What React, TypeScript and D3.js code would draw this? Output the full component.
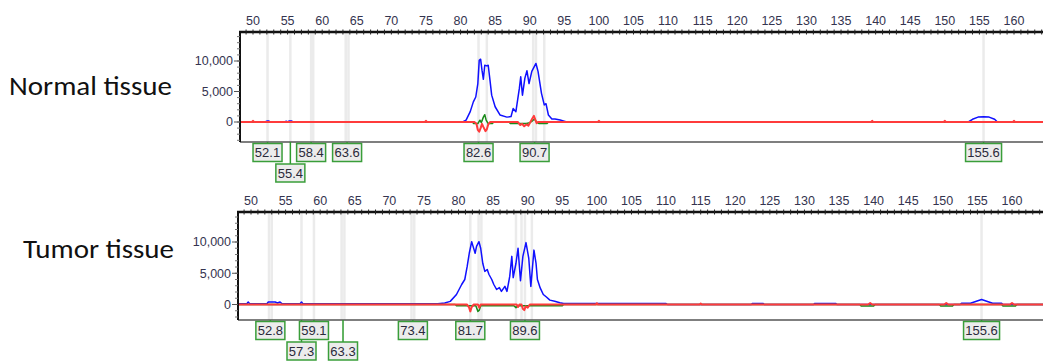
import React from "react";
import * as d3 from "d3";

// Fragment size axis (bp) and signal axis (RFU)
const X_TICKS = [50, 55, 60, 65, 70, 75, 80, 85, 90, 95, 100, 105, 110, 115, 120, 125, 130, 135, 140, 145, 150, 155, 160];
const Y_TICKS = [0, 5000, 10000];

// ---------- Normal tissue ----------
const normalBlue: [number, number][] = [
  [46, 0], [51.7, 0], [52.0, 150], [52.3, 150], [52.5, 0],
  [54.6, 0], [54.8, 120], [55.0, 0], [55.2, 150], [55.6, 150], [55.8, 0],
  [80.3, 0], [80.8, 300], [81.4, 1700], [81.85, 3300], [82.2, 4100], [82.5, 6300],
  [82.7, 10100], [82.9, 10300], [83.1, 8500], [83.3, 7000], [83.5, 9300], [83.8, 9200],
  [84.0, 9300], [84.25, 6900], [84.5, 4400], [85.0, 2500], [85.7, 1150], [86.7, 800],
  [87.3, 900], [87.6, 2200], [88.0, 1700], [88.5, 5500], [88.7, 7400], [88.95, 4400],
  [89.3, 7200], [89.6, 8400], [89.9, 6300], [90.3, 8300], [90.9, 9600], [91.2, 8300],
  [91.7, 4700], [92.1, 2800], [92.35, 3000], [92.7, 1150], [93.2, 500], [93.65, 500],
  [94.4, 330], [95.1, 100], [95.4, 0],
  [153.4, 0], [154.0, 450], [154.8, 800], [155.6, 880], [156.4, 800], [157.2, 450], [157.6, 0],
  [170, 0],
];
const normalRed: [number, number][] = [
  [46, 0], [49.85, 0], [50.0, 200], [50.15, 0],
  [74.85, 0], [75.0, 200], [75.15, 0],
  [82.0, 0], [82.3, -300], [82.5, -1300], [82.7, -1600], [82.9, -1000], [83.1, -300],
  [83.3, -800], [83.6, -1500], [83.8, -1200], [84.0, -400], [84.3, 0],
  [88.3, 0], [88.6, -500], [88.9, -300], [89.2, -700], [89.5, -400], [89.8, -600],
  [90.1, 0], [90.4, 600], [90.6, 1000], [90.8, 400], [91.0, -200], [91.2, 0],
  [99.85, 0], [100.0, 200], [100.15, 0],
  [139.35, 0], [139.5, 200], [139.65, 0],
  [149.85, 0], [150.0, 200], [150.15, 0],
  [159.85, 0], [160.0, 200], [160.15, 0],
  [170, 0],
];
const normalGreen: [number, number][] = [
  [46, 0], [81.7, 0], [81.9, -250], [82.5, -250], [82.8, 300], [83.0, -100], [83.3, 800],
  [83.5, 1200], [83.7, 300], [84.0, -250], [84.6, -250], [84.8, 0],
  [87.0, 0], [87.2, -250], [89.5, -250], [90.0, -100], [90.4, 200], [90.7, 500],
  [90.9, 100], [91.3, -250], [92.5, -250], [92.7, 0], [170, 0],
];
const normalMarkers = [52.1, 55.4, 58.4, 58.7, 63.4, 63.8, 82.6, 83.8, 90.5, 90.9, 92.1, 155.6];
const normalLabels: { value: number; row: number }[] = [
  { value: 52.1, row: 0 }, { value: 55.4, row: 1 }, { value: 58.4, row: 0 },
  { value: 63.6, row: 0 }, { value: 82.6, row: 0 }, { value: 90.7, row: 0 },
  { value: 155.6, row: 0 },
];

// ---------- Tumor tissue ----------
const tumorBlue: [number, number][] = [
  [46, 120], [49.4, 120], [49.6, 400], [49.8, 120],
  [52.3, 120], [52.5, 400], [53.5, 400], [53.8, 250], [54.2, 400], [54.5, 120],
  [57.1, 120], [57.3, 400], [57.5, 120],
  [77.0, 120], [78.0, 250], [78.8, 500], [79.7, 1600], [80.45, 3200], [80.9, 4000],
  [81.25, 6100], [81.55, 8200], [81.9, 10050], [82.1, 9300], [82.4, 8200], [82.6, 9300],
  [82.95, 10050], [83.2, 9000], [83.5, 6600], [83.8, 5300], [84.15, 5600], [84.4, 4800],
  [84.8, 4000], [85.1, 3200], [85.5, 2400], [85.9, 2700], [86.2, 2100], [86.7, 2900],
  [87.0, 2100], [87.4, 4500], [87.7, 7700], [87.9, 4300], [88.3, 6600], [88.6, 9000],
  [88.95, 3800], [89.3, 7700], [89.75, 9900], [90.15, 7400], [90.45, 2900], [90.9, 8700],
  [91.2, 6600], [91.4, 4000], [91.8, 2650], [92.25, 1600], [92.7, 1200], [93.2, 700],
  [93.9, 530], [94.65, 270], [95.2, 150], [110.0, 150], [110.2, 0],
  [122.3, 0], [122.5, 180], [124.0, 180], [124.2, 0],
  [131.3, 0], [131.5, 180], [134.5, 180], [134.7, 0],
  [152.5, 0], [152.7, 200], [154.0, 200], [155.6, 800], [157.2, 200], [158.5, 200], [158.7, 0],
  [170, 0],
];
const tumorRed: [number, number][] = [
  [46, 0], [81.2, 0], [81.5, -400], [81.7, -1100], [81.9, -400], [82.2, 0],
  [82.8, 0], [83.0, -500], [83.2, 0],
  [88.4, 0], [88.6, -400], [88.8, 0],
  [89.1, 0], [89.3, -700], [89.5, -900], [89.7, -300], [90.0, -500], [90.3, 0],
  [99.85, 0], [100.0, 200], [100.15, 0],
  [114.85, 0], [115.0, 150], [115.15, 0],
  [139.2, 0], [139.5, 250], [139.8, 0],
  [150.2, 0], [150.5, 250], [150.8, 0],
  [159.7, 0], [160.0, 250], [160.3, 0],
  [170, 0],
];
const tumorGreen: [number, number][] = [
  [46, 0], [79.5, 0], [79.7, -200], [82.5, -200], [82.8, -1100], [83.0, -900],
  [83.2, -200], [88.0, -200], [88.3, -500], [88.6, -200], [95.0, -200], [95.2, 0],
  [138.0, 0], [138.2, -250], [140.0, -250], [140.2, 0],
  [149.5, 0], [149.7, -250], [151.4, -250], [151.6, 0],
  [158.5, 0], [158.7, -250], [160.5, -250], [160.7, 0],
  [170, 0],
];
const tumorMarkers = [52.6, 53.0, 57.3, 59.1, 63.1, 63.5, 73.2, 73.6, 81.7, 82.9, 83.3, 88.3, 89.1, 89.6, 90.6, 155.6];
const tumorLabels: { value: number; row: number }[] = [
  { value: 52.8, row: 0 }, { value: 57.3, row: 1 }, { value: 59.1, row: 0 },
  { value: 63.3, row: 1 }, { value: 73.4, row: 0 }, { value: 81.7, row: 0 },
  { value: 89.6, row: 0 }, { value: 155.6, row: 0 },
];

const WIDTH = 1043;
const HEIGHT = 363;
const AXIS_FONT = "Arial, 'Liberation Sans', sans-serif";
const TITLE_FONT = "Calibri, Carlito, Lato, 'Open Sans', sans-serif";
const TEXT_COLOR = "#34344f";

type PanelProps = {
  id: string;
  title: string;
  titleX: number;
  titleY: number;
  titleLen: number;
  left: number;
  top: number;
  bottom: number;
  x50: number;
  x160: number;
  y0: number;
  y10k: number;
  tickY: number;
  blue: [number, number][];
  red: [number, number][];
  green: [number, number][];
  markers: number[];
  labels: { value: number; row: number }[];
};

function Panel(p: PanelProps) {
  const x = d3.scaleLinear().domain([50, 160]).range([p.x50, p.x160]);
  const y = d3.scaleLinear().domain([0, 10000]).range([p.y0, p.y10k]);
  const line = d3
    .line<[number, number]>()
    .x((d) => x(d[0]))
    .y((d) => y(d[1]));
  const right = WIDTH + 2;
  const xMin = x.invert(p.left);
  const xMax = x.invert(right);
  const minorX = d3.range(Math.ceil(xMin), Math.floor(xMax) + 1);
  const yMin = y.invert(p.bottom);
  const yMax = y.invert(p.top);
  const minorY = d3.range(Math.ceil(yMin / 1000) * 1000, yMax, 1000);
  const clipId = `clip-${p.id}`;
  const boxH = 18;
  const rowTop = [p.bottom + 1.5, p.bottom + 22];

  return (
    <g>
      <defs>
        <clipPath id={clipId}>
          <rect x={p.left} y={p.top} width={right - p.left} height={p.bottom - p.top} />
        </clipPath>
      </defs>
      <text
        x={p.titleX}
        y={p.titleY}
        fontFamily={TITLE_FONT}
        fontSize={26}
        fill="#111"
        textLength={p.titleLen}
        lengthAdjust="spacingAndGlyphs"
      >
        {p.title}
      </text>

      {/* top size axis labels */}
      {X_TICKS.map((t) => (
        <text
          key={t}
          x={x(t)}
          y={p.tickY}
          textAnchor="middle"
          fontFamily={AXIS_FONT}
          fontSize={12.5}
          fill={TEXT_COLOR}
        >
          {t}
        </text>
      ))}

      {/* peak marker bands and traces */}
      <g clipPath={`url(#${clipId})`}>
        {p.markers.map((m, i) => (
          <line key={i} x1={x(m)} x2={x(m)} y1={p.top} y2={p.bottom} stroke="#ebebeb" strokeWidth={2.5} />
        ))}
        <path d={line(p.blue) ?? ""} fill="none" stroke="#1010ff" strokeWidth={1.5} strokeLinejoin="round" />
        <path d={line(p.green) ?? ""} fill="none" stroke="#1a8a1a" strokeWidth={1.5} strokeLinejoin="round" />
        <path d={line(p.red) ?? ""} fill="none" stroke="#ff3b3b" strokeWidth={2} strokeLinejoin="round" />
      </g>

      {/* frame */}
      <line x1={p.left} x2={right} y1={p.bottom} y2={p.bottom} stroke="#555" strokeWidth={1.5} />
      <line x1={p.left} x2={p.left} y1={p.top - 1} y2={p.bottom} stroke="#111" strokeWidth={2} />
      <line x1={p.left - 1} x2={right} y1={p.top} y2={p.top} stroke="#111" strokeWidth={2.5} />
      {minorX.map((t) => (
        <line key={t} x1={x(t)} x2={x(t)} y1={p.top - 2.5} y2={p.top + 2.5} stroke="#222" strokeWidth={1} />
      ))}

      {/* signal axis */}
      {minorY.map((v) => (
        <line key={v} x1={p.left - 3} x2={p.left} y1={y(v)} y2={y(v)} stroke="#777" strokeWidth={1} />
      ))}
      {Y_TICKS.map((v) => (
        <g key={v}>
          <line x1={p.left - 6} x2={p.left} y1={y(v)} y2={y(v)} stroke="#555" strokeWidth={1} />
          <text
            x={p.left - 7}
            y={y(v)}
            dy="0.35em"
            textAnchor="end"
            fontFamily={AXIS_FONT}
            fontSize={12.5}
            fill={TEXT_COLOR}
          >
            {d3.format(",")(v)}
          </text>
        </g>
      ))}

      {/* peak size labels */}
      {p.labels.map((l) => {
        const txt = l.value.toFixed(1);
        const w = txt.length * 7 + 1;
        const cx = x(l.value);
        const top = rowTop[l.row];
        return (
          <g key={txt}>
            <line x1={cx} x2={cx} y1={p.bottom} y2={top} stroke="#2e9a2e" strokeWidth={1.5} />
            <rect
              x={cx - w / 2}
              y={top}
              width={w}
              height={boxH}
              fill="#ececec"
              stroke="#3a9e3a"
              strokeWidth={1.5}
            />
            <text
              x={cx}
              y={top + boxH / 2}
              dy="0.36em"
              textAnchor="middle"
              fontFamily={AXIS_FONT}
              fontSize={13}
              fill="#2a2a3a"
            >
              {txt}
            </text>
          </g>
        );
      })}
    </g>
  );
}

export default function App() {
  return (
    <svg
      width={WIDTH}
      height={HEIGHT}
      viewBox={`0 0 ${WIDTH} ${HEIGHT}`}
      style={{ position: "absolute", left: 0, top: 0, background: "#fff", display: "block" }}
    >
      <rect width={WIDTH} height={HEIGHT} fill="#fff" />
      <Panel
        id="normal"
        title="Normal tissue"
        titleX={9}
        titleY={95}
        titleLen={163}
        left={240}
        top={32}
        bottom={142}
        x50={253}
        x160={1014}
        y0={122}
        y10k={61}
        tickY={25}
        blue={normalBlue}
        red={normalRed}
        green={normalGreen}
        markers={normalMarkers}
        labels={normalLabels}
      />
      <Panel
        id="tumor"
        title="Tumor tissue"
        titleX={23}
        titleY={257.5}
        titleLen={151}
        left={238}
        top={212}
        bottom={320}
        x50={251}
        x160={1012}
        y0={304.5}
        y10k={242}
        tickY={205}
        blue={tumorBlue}
        red={tumorRed}
        green={tumorGreen}
        markers={tumorMarkers}
        labels={tumorLabels}
      />
    </svg>
  );
}
